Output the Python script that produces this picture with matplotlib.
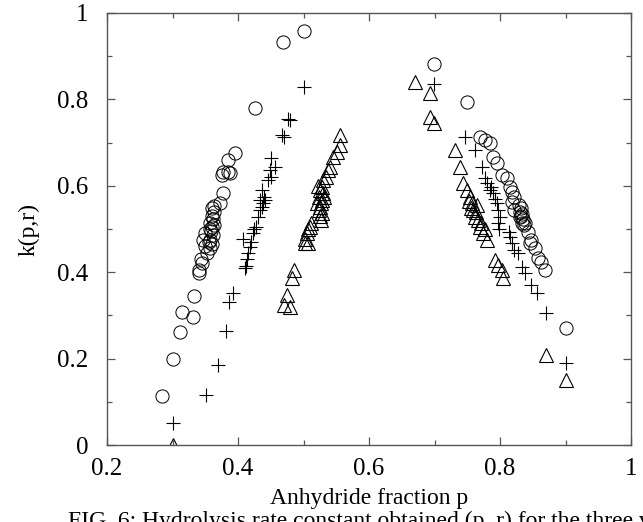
import matplotlib
matplotlib.use("Agg")
import matplotlib.pyplot as plt
from matplotlib.ticker import MultipleLocator, FormatStrFormatter

plt.rcParams['font.family'] = ['Liberation Serif', 'DejaVu Serif']

# ---- data ----
circ_p = [0.284, 0.300, 0.311, 0.315, 0.331, 0.333,
          0.340, 0.340, 0.345, 0.343, 0.347, 0.349, 0.352, 0.350,
          0.357, 0.360, 0.358, 0.362, 0.359, 0.361, 0.358, 0.362, 0.360, 0.363, 0.361, 0.364, 0.356, 0.357, 0.364,
          0.372, 0.377, 0.375, 0.377, 0.385, 0.388, 0.385, 0.395,
          0.426, 0.469, 0.500,
          0.699, 0.749, 0.769, 0.777, 0.785, 0.790, 0.795, 0.803, 0.810, 0.815, 0.818, 0.821, 0.818, 0.821,
          0.829, 0.832, 0.830, 0.834, 0.831, 0.835, 0.833, 0.836, 0.832,
          0.838, 0.843, 0.848, 0.846, 0.853, 0.858, 0.863, 0.869, 0.901]
circ_k = [0.113, 0.199, 0.262, 0.307, 0.297, 0.346,
          0.398, 0.405, 0.421, 0.430, 0.475, 0.460, 0.445, 0.490,
          0.455, 0.465, 0.475, 0.485, 0.495, 0.505, 0.515, 0.522, 0.530, 0.540, 0.548, 0.553, 0.470, 0.500, 0.510,
          0.560, 0.583, 0.625, 0.632, 0.632, 0.629, 0.660, 0.676,
          0.781, 0.932, 0.959,
          0.882, 0.795, 0.712, 0.706, 0.698, 0.667, 0.652, 0.625, 0.617, 0.598, 0.586, 0.575, 0.563, 0.544,
          0.555, 0.548, 0.540, 0.535, 0.528, 0.522, 0.515, 0.510, 0.530,
          0.513, 0.494, 0.475, 0.468, 0.455, 0.432, 0.424, 0.405, 0.270]

plus_p = [0.300, 0.351, 0.370, 0.381, 0.387, 0.392,
          0.411, 0.412, 0.408, 0.416, 0.418, 0.414, 0.423, 0.420, 0.428, 0.425, 0.431, 0.436, 0.434, 0.439,
          0.436, 0.441, 0.433, 0.438, 0.446, 0.451, 0.449, 0.456, 0.451,
          0.467, 0.470, 0.477, 0.479, 0.500,
          0.699, 0.747, 0.762, 0.772, 0.777, 0.780, 0.787, 0.790, 0.785, 0.795, 0.797, 0.800, 0.797, 0.799,
          0.792, 0.813, 0.815, 0.818, 0.821, 0.828, 0.833, 0.838, 0.848, 0.856, 0.870, 0.901]
plus_k = [0.050, 0.116, 0.185, 0.265, 0.332, 0.351,
          0.409, 0.415, 0.478, 0.444, 0.459, 0.430, 0.490, 0.470, 0.505, 0.500, 0.528, 0.552, 0.567, 0.575,
          0.590, 0.567, 0.545, 0.560, 0.613, 0.621, 0.637, 0.644, 0.664,
          0.718, 0.712, 0.755, 0.752, 0.828,
          0.836, 0.712, 0.683, 0.644, 0.617, 0.606, 0.598, 0.583, 0.590, 0.560, 0.544, 0.528, 0.513, 0.500,
          0.570, 0.494, 0.482, 0.467, 0.451, 0.444, 0.413, 0.397, 0.370, 0.351, 0.305, 0.189]

tri_p = [0.300, 0.470, 0.475, 0.480, 0.483, 0.485,
         0.502, 0.507, 0.502, 0.505, 0.507, 0.512, 0.510, 0.525, 0.528, 0.523, 0.525, 0.520, 0.528, 0.523,
         0.530, 0.525, 0.528, 0.530, 0.535, 0.538, 0.540, 0.545, 0.551, 0.556, 0.555, 0.527, 0.522, 0.532, 0.526,
         0.670, 0.693, 0.693, 0.699, 0.731, 0.739, 0.744, 0.749, 0.754, 0.757, 0.759, 0.762, 0.767, 0.769,
         0.774, 0.780, 0.752, 0.756, 0.764, 0.771, 0.777, 0.765, 0.792, 0.797, 0.803, 0.805, 0.870, 0.901]
tri_k = [0.000, 0.324, 0.347, 0.320, 0.386, 0.405,
         0.467, 0.467, 0.478, 0.490, 0.501, 0.513, 0.505, 0.529, 0.536, 0.544, 0.552, 0.560, 0.567, 0.575,
         0.583, 0.590, 0.598, 0.613, 0.621, 0.637, 0.644, 0.667, 0.679, 0.694, 0.718, 0.560, 0.600, 0.575, 0.520,
         0.840, 0.815, 0.759, 0.745, 0.683, 0.644, 0.606, 0.590, 0.575, 0.560, 0.544, 0.528, 0.521, 0.505,
         0.490, 0.475, 0.565, 0.548, 0.540, 0.515, 0.500, 0.555, 0.428, 0.417, 0.405, 0.386, 0.208, 0.150]

x_label = "Anhydride fraction p"
y_label = "k(p,r)"
caption = "FIG. 6: Hydrolysis rate constant obtained (p, r) for the three values of r"

# ---- figure ----
fig = plt.figure(figsize=(6.43, 5.22), dpi=100)
ax = fig.add_axes([107/643, 1-445/522, (631-107)/643, (445-13)/522])

ax.plot(circ_p, circ_k, linestyle='none', marker='o', markersize=9.5,
        markerfacecolor='none', markeredgecolor='black', markeredgewidth=0.7)
ax.plot(plus_p, plus_k, linestyle='none', marker='+', markersize=10.5,
        color='black', markeredgewidth=0.8)
ax.plot(tri_p, tri_k, linestyle='none', marker='^', markersize=9.5,
        markerfacecolor='none', markeredgecolor='black', markeredgewidth=0.8)

ax.set_xlim(0.2, 1.0)
ax.set_ylim(0.0, 1.0)
ax.xaxis.set_major_locator(MultipleLocator(0.2))
ax.xaxis.set_minor_locator(MultipleLocator(0.1))
ax.yaxis.set_major_locator(MultipleLocator(0.2))
ax.yaxis.set_minor_locator(MultipleLocator(0.1))
ax.xaxis.set_major_formatter(FormatStrFormatter('%g'))
ax.yaxis.set_major_formatter(FormatStrFormatter('%g'))
ax.tick_params(which='both', direction='in', top=True, right=True,
               color='#555555', labelsize=18, width=0.9)
ax.tick_params(which='major', length=6)
ax.tick_params(which='minor', length=3.5)
ax.tick_params(axis='x', which='major', pad=9.5)
ax.tick_params(axis='y', which='major', pad=13.5)
for s in ax.spines.values():
    s.set_color('#555555')
    s.set_linewidth(1.0)

ax.set_xlabel(x_label, fontsize=17)
ax.set_ylabel(y_label, fontsize=17)
ax.xaxis.set_label_coords(0.5, (445 - 488) / 432)
ax.yaxis.set_label_coords((40 - 107) / 524, 0.5)

fig.text(68 / 643, 1 - 511 / 522, caption, fontsize=17, ha='left', va='top')

fig.savefig("out.png", dpi=100)
